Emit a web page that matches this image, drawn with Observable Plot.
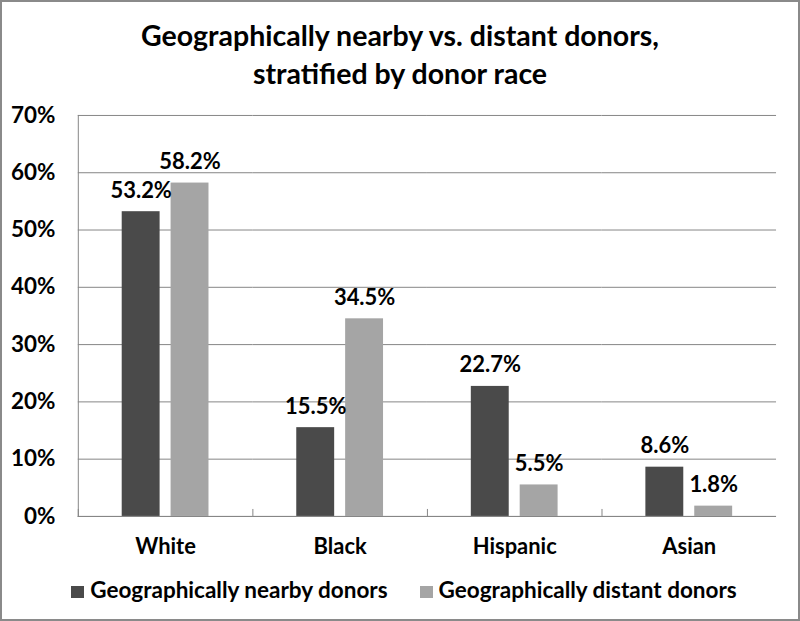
<!DOCTYPE html>
<html><head><meta charset="utf-8">
<script src="https://cdn.jsdelivr.net/npm/d3@7"></script>
<script src="https://cdn.jsdelivr.net/npm/@observablehq/plot@0.6"></script>
<style>
body{margin:0;background:#fff;}
#wrap{position:relative;width:800px;height:621px;box-sizing:border-box;border:2px solid #8a8a8a;font-family:Lato, sans-serif;font-weight:bold;color:#000;overflow:hidden;background:#fff;}
#title{position:absolute;top:14px;left:0;width:100%;text-align:center;font-size:28.5px;line-height:38px;}
#chart{position:absolute;top:98px;left:-2px;}
#legend{position:absolute;top:575px;left:4px;width:100%;display:flex;justify-content:center;gap:32px;font-size:22.5px;line-height:26px;}
.item{display:flex;align-items:baseline;}
.sw{width:13px;height:12px;margin-right:6px;}
</style></head>
<body>
<div id="wrap">
  <div id="title">Geographically nearby vs. distant donors,<br>stratified by donor race</div>
  <div id="chart"></div>
  <div id="legend"></div>
</div>
<script>
const races = ["White", "Black", "Hispanic", "Asian"];
const seriesNames = ["Geographically nearby donors", "Geographically distant donors"];
const nearby = [53.2, 15.5, 22.7, 8.6];
const distant = [58.2, 34.5, 5.5, 1.8];
const yTicks = [0, 10, 20, 30, 40, 50, 60, 70];
const colors = ["#4a4a4a", "#a5a5a5"];

const data = races.flatMap((r, i) => [
  {race: r, series: seriesNames[0], value: nearby[i]},
  {race: r, series: seriesNames[1], value: distant[i]}
]);

const plotH = 402;
const chart = Plot.plot({
  width: 800, height: 470,
  marginLeft: 76, marginRight: 21, marginTop: 15, marginBottom: 53,
  style: {fontFamily: "Lato, sans-serif", fontWeight: "bold", fontSize: "22px", color: "#000", background: "transparent", overflow: "visible"},
  fx: {domain: races, padding: 0, label: null},
  x: {domain: seriesNames, paddingInner: 0.22, paddingOuter: 0.8675, axis: null},
  y: {domain: [0, 70], ticks: yTicks},
  color: {domain: seriesNames, range: colors},
  marks: [
    Plot.gridY({ticks: yTicks, stroke: "#868686", strokeOpacity: 1}),
    Plot.barY(data, {fx: "race", x: "series", y: "value", fill: "series"}),
    Plot.ruleY([0], {stroke: "#868686"}),
    Plot.text(data, {fx: "race", x: "series", y: "value", text: d => d.value.toFixed(1) + "%", dy: -21, fontSize: 22, fontWeight: "bold", fill: "#000"}),
    Plot.frame({anchor: "left", facetAnchor: "left", stroke: "#868686"}),
    Plot.frame({anchor: "left", insetTop: plotH - 7, stroke: "#868686"}),
    Plot.axisY({ticks: yTicks, tickSize: 0, tickPadding: 23, tickFormat: d => d + "%", label: null, fontSize: 22.5}),
    Plot.axisFx({anchor: "bottom", tickSize: 0, tickPadding: 22, label: null, fontSize: 22})
  ]
});
document.getElementById("chart").appendChild(chart);

const legend = document.getElementById("legend");
seriesNames.forEach((s, i) => {
  const it = document.createElement("div");
  it.className = "item";
  const sw = document.createElement("div");
  sw.className = "sw";
  sw.style.background = colors[i];
  const t = document.createElement("span");
  t.textContent = s;
  it.appendChild(sw); it.appendChild(t);
  legend.appendChild(it);
});
</script>
</body></html>
